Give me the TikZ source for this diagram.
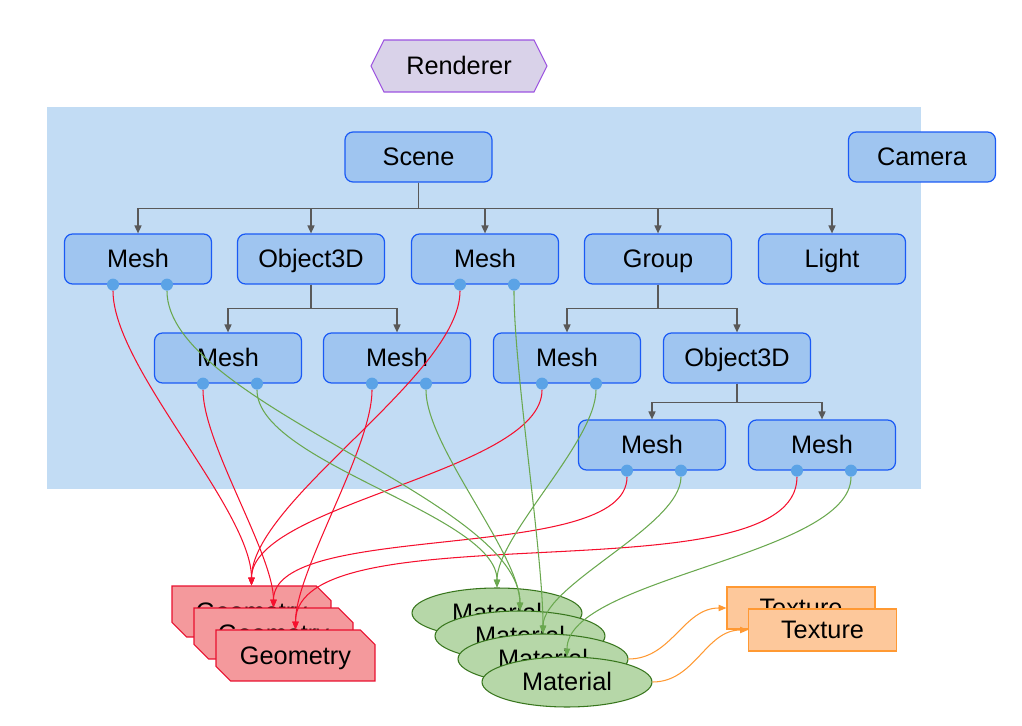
\documentclass[tikz,border=0pt]{standalone}
\usepackage{fontspec}
\setmainfont{Liberation Sans}
\usetikzlibrary{shapes.geometric, shapes.symbols, shapes.misc, arrows.meta, positioning, calc}

\definecolor{bgblue}{HTML}{C2DCF4}
\definecolor{boxfill}{HTML}{9FC5F0}
\definecolor{boxline}{HTML}{1A5AF5}
\definecolor{dotblue}{HTML}{5BA3E6}
\definecolor{rendfill}{HTML}{D9D2E9}
\definecolor{rendline}{HTML}{9B51E0}
\definecolor{geofill}{HTML}{F4999C}
\definecolor{geoline}{HTML}{E8102E}
\definecolor{matfill}{HTML}{B6D7A8}
\definecolor{matline}{HTML}{38761D}
\definecolor{texfill}{HTML}{FDC89B}
\definecolor{texline}{HTML}{FF9933}
\definecolor{treeline}{HTML}{595959}
\definecolor{geoedge}{HTML}{F5102E}
\definecolor{matedge}{HTML}{6AA84F}

\begin{document}
\begin{tikzpicture}[
  x=0.02cm, y=0.02cm,
  font=\fontsize{14.4}{17}\selectfont,
  every node/.style={text height=10.2pt, text depth=0pt},
  box/.style={rectangle, draw=boxline, fill=boxfill, line width=0.7pt, rounded corners=0.16cm, minimum width=2.94cm, minimum height=1cm, inner sep=0pt},
  dot/.style={circle, fill=dotblue, minimum size=0.24cm, inner sep=0pt, text height=, text depth=},
  render/.style={signal, signal to=west and east, signal pointer angle=127, draw=rendline, fill=rendfill, line width=0.6pt, minimum width=3.52cm, minimum height=1.04cm, inner sep=0pt},
  geo/.style={chamfered rectangle, chamfered rectangle corners={north east, south west}, chamfered rectangle xsep=0.17cm, draw=geoline, fill=geofill, line width=0.6pt, minimum width=3.18cm, minimum height=1.02cm, inner sep=0pt},
  mat/.style={ellipse, draw=matline, fill=matfill, line width=0.6pt, minimum width=3.4cm, minimum height=1cm, inner sep=0pt},
  tex/.style={rectangle, draw=texline, fill=texfill, line width=0.6pt, minimum width=2.96cm, minimum height=0.84cm, inner sep=0pt},
  tree/.style={-{Triangle[length=4.5pt,width=4pt]}, draw=treeline, line width=0.75pt},
  geoarrow/.style={-{Triangle[length=4.5pt,width=3.6pt]}, draw=geoedge, line width=0.6pt},
  matarrow/.style={-{Triangle[length=4.5pt,width=3.6pt]}, draw=matedge, line width=0.6pt},
  texarrow/.style={-{Triangle[length=4.5pt,width=3.6pt]}, draw=texline, line width=0.6pt},
  link/.style={out=-90, in=90, looseness=0.6}
]
\useasboundingbox (0,0) rectangle (1022,-726);

\node (renderer) [render] at (459,-66) {Renderer};

% scene graph
\fill[bgblue] (47,-107) rectangle (921,-489);

\node (scene) [box] at (418.5,-157) {Scene};
\node (camera) [box] at (922,-157) {Camera};

\node (meshA) [box] at (138,-259) {Mesh};
\node (objA) [box] at (311,-259) {Object3D};
\node (meshB) [box] at (485,-259) {Mesh};
\node (group) [box] at (658,-259) {Group};
\node (light) [box] at (832,-259) {Light};

\node (meshC) [box] at (228,-358) {Mesh};
\node (meshD) [box] at (397,-358) {Mesh};
\node (meshE) [box] at (567,-358) {Mesh};
\node (objB) [box] at (737,-358) {Object3D};

\node (meshF) [box] at (652,-445) {Mesh};
\node (meshG) [box] at (822,-445) {Mesh};

\foreach \c in {meshA, objA, meshB, group, light}
  \draw [tree] (scene.south) -- ++(0,-26) -| (\c.north);
\foreach \c in {meshC, meshD}
  \draw [tree] (objA.south) -- ++(0,-24) -| (\c.north);
\foreach \c in {meshE, objB}
  \draw [tree] (group.south) -- ++(0,-24) -| (\c.north);
\foreach \c in {meshF, meshG}
  \draw [tree] (objB.south) -- ++(0,-19) -| (\c.north);

\foreach \m in {meshA, meshB, meshC, meshD, meshE, meshF, meshG} {
  \node (\m-geo) [dot] at ([xshift=-0.5cm]\m.south) {};
  \node (\m-mat) [dot] at ([xshift=0.58cm]\m.south) {};
}

% resources
\node (geoA) [geo] at (251.5,-611.5) {Geometry};
\node (geoB) [geo] at (273.5,-633.5) {Geometry};
\node (geoC) [geo] at (295.5,-655.5) {Geometry};

\node (matA) [mat] at (497,-613) {Material};
\node (matB) [mat] at (520,-636) {Material};
\node (matC) [mat] at (543,-659) {Material};
\node (matD) [mat] at (567,-682) {Material};

\node (texA) [tex] at (801,-608) {Texture};
\node (texB) [tex] at (822.5,-630) {Texture};

% links
\draw [geoarrow] (meshA-geo) to[link] (geoA.north);
\draw [geoarrow] (meshB-geo) to[link] (geoA.north);
\draw [geoarrow] (meshE-geo) to[link] (geoA.north);
\draw [geoarrow] (meshC-geo) to[link] (geoB.north);
\draw [geoarrow] (meshF-geo) to[link] (geoB.north);
\draw [geoarrow] (meshD-geo) to[link] (geoC.north);
\draw [geoarrow] (meshG-geo) to[link] (geoC.north);

\draw [matarrow] (meshC-mat) to[link] (matA.north);
\draw [matarrow] (meshE-mat) to[link] (matA.north);
\draw [matarrow] (meshA-mat) to[link] (matB.north);
\draw [matarrow] (meshD-mat) to[link] (matB.north);
\draw [matarrow] (meshB-mat) to[link] (matC.north);
\draw [matarrow] (meshF-mat) to[link] (matC.north);
\draw [matarrow] (meshG-mat) to[link] (matD.north);

\draw [texarrow] (matC.east) to[out=0, in=180] (texA.west);
\draw [texarrow] (matD.east) to[out=0, in=180] (texB.west);

\end{tikzpicture}
\end{document}
